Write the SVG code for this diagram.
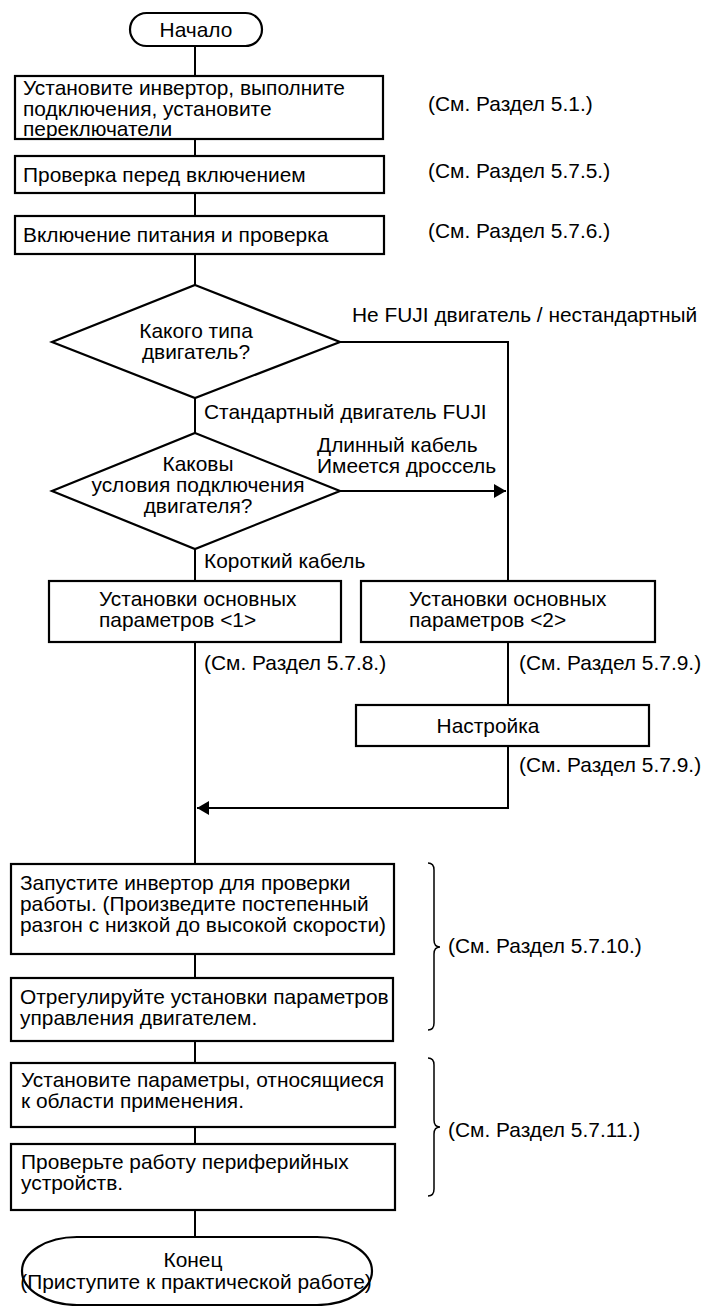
<svg xmlns="http://www.w3.org/2000/svg" width="707" height="1306" viewBox="0 0 707 1306">
<style>
text{font-family:"Liberation Sans",Arial,sans-serif;font-size:20.9px;fill:#000}
.c{text-anchor:middle}
.s{fill:#fff;stroke:#000;stroke-width:2.2}
.l{fill:none;stroke:#000;stroke-width:2}
.b{fill:none;stroke:#000;stroke-width:1.5}
</style>
<defs>
<marker id="ar" markerUnits="userSpaceOnUse" markerWidth="13" markerHeight="14" refX="12" refY="7" orient="auto">
<path d="M0,0 L12,7 L0,14 Z" fill="#000"/>
</marker>
</defs>
<g id="connectors">
<path class="l" d="M195,46 V75 M195,139 V156 M195,193 V216 M195,254 V285 M195,398 V433 M195,549 V581 M195,642 V864 M195,954 V978 M195,1041 V1063 M195,1127 V1144 M195,1210 V1237"/>
<path class="l" d="M340,342 H508 V581"/>
<path class="l" d="M340,491 H506" marker-end="url(#ar)"/>
<path class="l" d="M508,642 V705"/>
<path class="l" d="M508,746 V808 H197" marker-end="url(#ar)"/>
</g>
<g id="start">
<rect class="s" x="130" y="13" width="132" height="33" rx="16.5"/>
<text class="c" x="196" y="37">Начало</text>
</g>
<g id="install">
<rect class="s" x="15" y="76" width="368" height="63"/>
<text x="23" y="94.5">Установите инвертор, выполните</text>
<text x="23" y="115.5">подключения, установите</text>
<text x="23" y="136">переключатели</text>
<text x="428" y="111">(См. Раздел 5.1.)</text>
</g>
<g id="check">
<rect class="s" x="15" y="156" width="369" height="37"/>
<text x="23" y="182">Проверка перед включением</text>
<text x="428" y="178">(См. Раздел 5.7.5.)</text>
</g>
<g id="power">
<rect class="s" x="15" y="216" width="369" height="38"/>
<text x="23" y="242">Включение питания и проверка</text>
<text x="428" y="238">(См. Раздел 5.7.6.)</text>
</g>
<g id="decision1">
<polygon class="s" points="195,285 340,342 195,398 52,342"/>
<text class="c" x="196" y="338">Какого типа</text>
<text class="c" x="196" y="359">двигатель?</text>
<text x="352" y="322">Не FUJI двигатель / нестандартный</text>
<text x="204" y="419">Стандартный двигатель FUJI</text>
</g>
<g id="decision2">
<polygon class="s" points="195,433 340,491 195,549 52,491"/>
<text class="c" x="198" y="471">Каковы</text>
<text class="c" x="198" y="492">условия подключения</text>
<text class="c" x="198" y="513">двигателя?</text>
<text x="317" y="452">Длинный кабель</text>
<text x="317" y="473">Имеется дроссель</text>
<text x="204" y="568">Короткий кабель</text>
</g>
<g id="basic1">
<rect class="s" x="49" y="581" width="292" height="61"/>
<text x="99" y="606">Установки основных</text>
<text x="99" y="627">параметров &lt;1&gt;</text>
<text x="204" y="670">(См. Раздел 5.7.8.)</text>
</g>
<g id="basic2">
<rect class="s" x="361" y="581" width="294" height="61"/>
<text x="409" y="606">Установки основных</text>
<text x="409" y="627">параметров &lt;2&gt;</text>
<text x="519" y="670">(См. Раздел 5.7.9.)</text>
</g>
<g id="tuning">
<rect class="s" x="356" y="705" width="293" height="41"/>
<text class="c" x="488" y="733">Настройка</text>
<text x="519" y="772">(См. Раздел 5.7.9.)</text>
</g>
<g id="run">
<rect class="s" x="11" y="864" width="383" height="90"/>
<text x="20" y="890">Запустите инвертор для проверки</text>
<text x="20" y="911">работы. (Произведите постепенный</text>
<text x="20" y="932">разгон с низкой до высокой скорости)</text>
</g>
<g id="adjust">
<rect class="s" x="11" y="978" width="382" height="63"/>
<text x="20" y="1004">Отрегулируйте установки параметров</text>
<text x="20" y="1025">управления двигателем.</text>
</g>
<g id="ref10">
<path class="b" d="M428,863 Q434,863 434,870 V940 Q434,947 440,947 Q434,947 434,954 V1023 Q434,1030 428,1030"/>
<text x="448" y="953">(См. Раздел 5.7.10.)</text>
</g>
<g id="app">
<rect class="s" x="11" y="1063" width="384" height="64"/>
<text x="21" y="1087">Установите параметры, относящиеся</text>
<text x="21" y="1108">к области применения.</text>
</g>
<g id="periph">
<rect class="s" x="11" y="1144" width="384" height="66"/>
<text x="21" y="1169">Проверьте работу периферийных</text>
<text x="21" y="1190">устройств.</text>
</g>
<g id="ref11">
<path class="b" d="M428,1058 Q434,1058 434,1065 V1120 Q434,1127 440,1127 Q434,1127 434,1134 V1189 Q434,1196 428,1196"/>
<text x="448" y="1137">(См. Раздел 5.7.11.)</text>
</g>
<g id="end">
<rect class="s" x="22" y="1237" width="350" height="68" rx="55" ry="34"/>
<text class="c" x="193" y="1267">Конец</text>
<text class="c" x="196" y="1289">(Приступите к практической работе)</text>
</g>
</svg>
